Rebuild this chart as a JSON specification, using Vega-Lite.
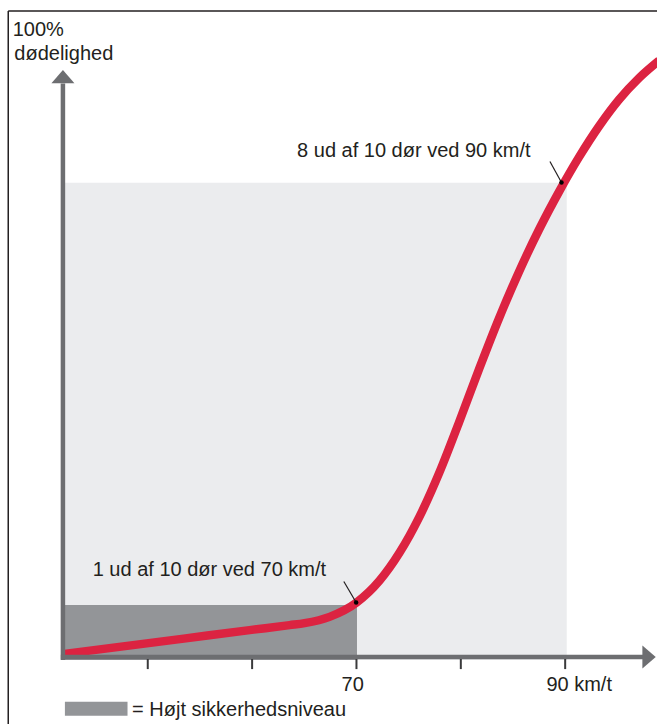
{
  "$schema": "https://vega.github.io/schema/vega-lite/v6.json",
  "width": 658,
  "height": 725,
  "autosize": {"type": "fit", "contains": "padding"},
  "padding": 0,
  "background": "white",
  "config": {"view": {"stroke": null}},
  "datasets": {
    "bigRect": [{"x": 41.87, "x2": 90.15, "y": 0.75, "y2": 80.0}],
    "smallRect": [{"x": 41.87, "x2": 70.05, "y": 0.75, "y2": 9.85}],
    "curve": [
      {"x": 41.87, "y": 1.71}, {"x": 53.45, "y": 4.28}, {"x": 59.76, "y": 5.69},
      {"x": 63.59, "y": 6.52}, {"x": 65.03, "y": 6.85},
      {"x": 67.42, "y": 7.89}, {"x": 70.0, "y": 10.25}, {"x": 72.20, "y": 13.88},
      {"x": 74.12, "y": 18.53}, {"x": 76.03, "y": 24.50}, {"x": 77.95, "y": 31.88},
      {"x": 79.86, "y": 40.34}, {"x": 81.77, "y": 49.13}, {"x": 83.69, "y": 57.59},
      {"x": 85.60, "y": 65.30}, {"x": 87.51, "y": 72.27}, {"x": 89.43, "y": 78.57},
      {"x": 91.34, "y": 84.29}, {"x": 93.26, "y": 89.43}, {"x": 95.17, "y": 93.83},
      {"x": 97.08, "y": 97.40}, {"x": 99.00, "y": 100.30}
    ],
    "axes": [
      {"x": 41.87, "y": 0.75, "x2": 41.87, "y2": 96.5},
      {"x": 41.67, "y": 1.21, "x2": 97.6, "y2": 1.21}
    ],
    "arrowUp": [{"x": 41.87, "y": 97.63}],
    "arrowRight": [{"x": 98.04, "y": 1.21}],
    "ticks": [
      {"x": 50, "y": 0.9, "y2": -0.78}, {"x": 60, "y": 0.9, "y2": -0.78},
      {"x": 70, "y": 0.9, "y2": -0.78}, {"x": 80, "y": 0.9, "y2": -0.78},
      {"x": 90, "y": 0.9, "y2": -0.78}
    ],
    "pointers": [
      {"x": 68.79, "y": 13.77, "x2": 69.97, "y2": 10.28},
      {"x": 88.54, "y": 83.53, "x2": 89.65, "y2": 80.05}
    ],
    "dots": [{"x": 69.97, "y": 10.28}, {"x": 89.65, "y": 80.05}],
    "texts": [
      {"x": 37.06, "y": 104.38, "t": "100%"},
      {"x": 37.21, "y": 100.40, "t": "dødelighed"},
      {"x": 44.72, "y": 14.65, "t": "1 ud af 10 dør ved 70 km/t"},
      {"x": 64.31, "y": 84.26, "t": "8 ud af 10 dør ved 90 km/t"},
      {"x": 68.57, "y": -4.43, "t": "70"},
      {"x": 88.20, "y": -4.43, "t": "90 km/t"},
      {"x": 48.50, "y": -8.63, "t": "= Højt sikkerhedsniveau"}
    ],
    "legendRect": [{"x": 42.06, "x2": 48.06, "y": -6.20, "y2": -8.53}],
    "frame": [
      {"x": 36.63, "y": 108.53, "x2": 36.63, "y2": -9.9},
      {"x": 36.63, "y": 108.53, "x2": 98.8, "y2": 108.53}
    ]
  },
  "encoding": {
    "x": {"field": "x", "type": "quantitative", "scale": {"domain": [35.84, 98.80], "nice": false, "zero": false}, "axis": null},
    "y": {"field": "y", "type": "quantitative", "scale": {"domain": [-9.90, 110.35], "nice": false, "zero": false}, "axis": null}
  },
  "layer": [
    {
      "data": {"name": "bigRect"},
      "mark": {"type": "rect", "color": "#ebecee"},
      "encoding": {"x2": {"field": "x2"}, "y2": {"field": "y2"}}
    },
    {
      "data": {"name": "smallRect"},
      "mark": {"type": "rect", "color": "#939598"},
      "encoding": {"x2": {"field": "x2"}, "y2": {"field": "y2"}}
    },
    {
      "data": {"name": "curve"},
      "mark": {"type": "line", "color": "#dc2341", "strokeWidth": 8.5, "interpolate": "monotone", "clip": true, "strokeCap": "butt", "strokeJoin": "round"},
      "encoding": {}
    },
    {
      "data": {"name": "axes"},
      "mark": {"type": "rule", "color": "#6d6e71", "strokeWidth": 4.5},
      "encoding": {"x2": {"field": "x2"}, "y2": {"field": "y2"}}
    },
    {
      "data": {"name": "arrowUp"},
      "mark": {"type": "point", "filled": true, "opacity": 1, "color": "#6d6e71", "shape": "M0,-0.58L1,0.58L-1,0.58Z", "size": 529}
    },
    {
      "data": {"name": "arrowRight"},
      "mark": {"type": "point", "filled": true, "opacity": 1, "color": "#6d6e71", "shape": "M0.58,0L-0.58,1L-0.58,-1Z", "size": 529}
    },
    {
      "data": {"name": "ticks"},
      "mark": {"type": "rule", "color": "#3a3a3c", "strokeWidth": 2},
      "encoding": {"y2": {"field": "y2"}}
    },
    {
      "data": {"name": "pointers"},
      "mark": {"type": "rule", "color": "#231f20", "strokeWidth": 1.2},
      "encoding": {"x2": {"field": "x2"}, "y2": {"field": "y2"}}
    },
    {
      "data": {"name": "dots"},
      "mark": {"type": "point", "filled": true, "opacity": 1, "color": "#000000", "size": 20, "shape": "circle"}
    },
    {
      "data": {"name": "texts"},
      "mark": {"type": "text", "align": "left", "baseline": "alphabetic", "font": "Liberation Sans", "fontSize": 20, "color": "#231f20"},
      "encoding": {"text": {"field": "t", "type": "nominal"}}
    },
    {
      "data": {"name": "legendRect"},
      "mark": {"type": "rect", "color": "#939598"},
      "encoding": {"x2": {"field": "x2"}, "y2": {"field": "y2"}}
    },
    {
      "data": {"name": "frame"},
      "mark": {"type": "rule", "color": "#231f20", "strokeWidth": 1.5},
      "encoding": {"x2": {"field": "x2"}, "y2": {"field": "y2"}}
    }
  ]
}
